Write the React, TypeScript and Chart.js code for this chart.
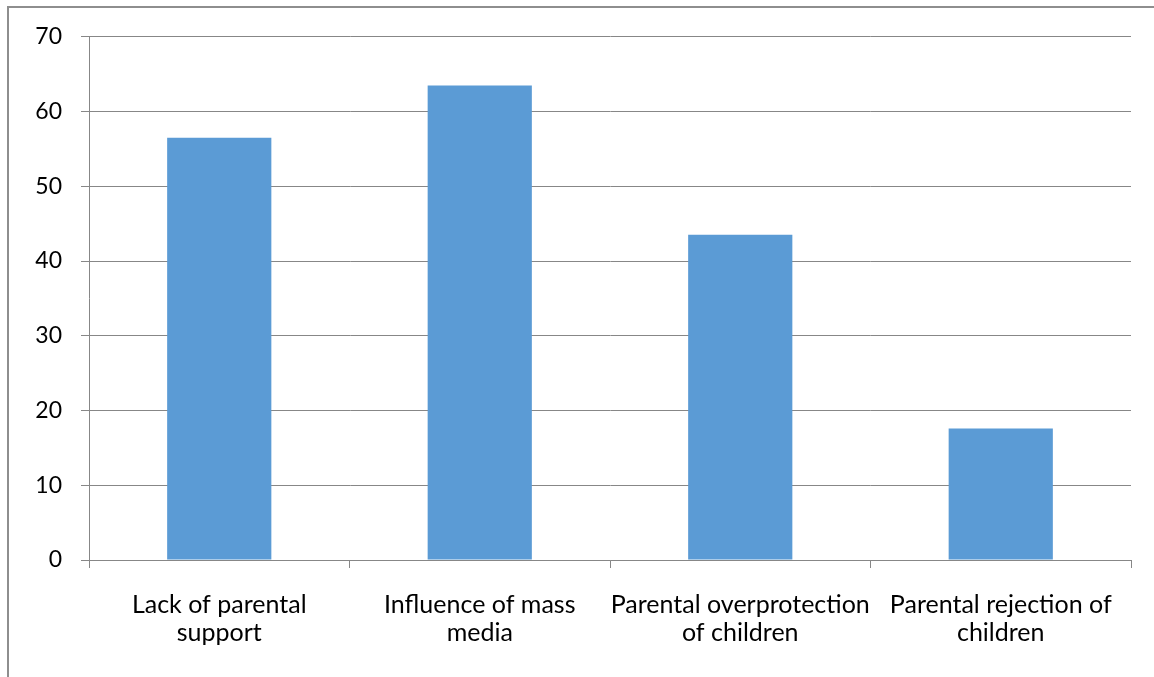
import React, { useEffect, useRef } from "react";
import { Chart, registerables } from "chart.js";

Chart.register(...registerables);

// Category labels (wrapped onto two lines as shown under the axis)
const categories: string[][] = [
  ["Lack of parental", "support"],
  ["Influence of mass", "media"],
  ["Parental overprotection", "of children"],
  ["Parental rejection of", "children"],
];

// Percentage of responses per factor
const values: number[] = [56.5, 63.5, 43.5, 17.6];

// Value axis range
const yMin = 0;
const yMax = 70;
const yStep = 10;

const FONT = "Lato, 'Open Sans', sans-serif";
const GRID = "#878787";

export default function App() {
  const canvasRef = useRef<HTMLCanvasElement | null>(null);

  useEffect(() => {
    const canvas = canvasRef.current;
    if (!canvas) return;
    const chart = new Chart(canvas, {
      type: "bar",
      data: {
        labels: categories,
        datasets: [
          {
            data: values,
            backgroundColor: "#5B9BD5",
            borderWidth: 0,
            categoryPercentage: 1,
            barPercentage: 0.4,
          },
        ],
      },
      options: {
        responsive: false,
        animation: false,
        layout: { padding: { top: 14, right: 18, left: 0, bottom: 0 } },
        plugins: {
          legend: { display: false },
          tooltip: { enabled: false },
        },
        scales: {
          x: {
            grid: {
              display: true,
              offset: true,
              drawOnChartArea: false,
              drawTicks: true,
              tickLength: 8,
              color: GRID,
              lineWidth: 1,
            },
            border: { display: true, color: GRID, width: 1 },
            ticks: {
              color: "#000",
              font: { family: FONT, size: 25, lineHeight: 1.12 },
              padding: 23,
              maxRotation: 0,
              minRotation: 0,
              autoSkip: false,
            },
            afterFit: (scale: any) => {
              scale.height = 104;
            },
          },
          y: {
            min: yMin,
            max: yMax,
            grid: {
              color: GRID,
              lineWidth: 1,
              drawTicks: true,
              tickLength: 8,
            },
            border: { display: true, color: GRID, width: 1 },
            ticks: {
              stepSize: yStep,
              color: "#000",
              font: { family: FONT, size: 23 },
              padding: 19,
            },
            afterFit: (scale: any) => {
              scale.width = 80;
            },
          },
        },
      },
    });
    return () => chart.destroy();
  }, []);

  return (
    <div
      style={{
        position: "absolute",
        left: 7,
        top: 6,
        width: 1147,
        height: 671,
        borderTop: "2px solid #8e8e8e",
        borderLeft: "2px solid #8e8e8e",
        boxSizing: "border-box",
        overflow: "hidden",
        background: "#fff",
      }}
    >
      <canvas
        ref={canvasRef}
        width={1140}
        height={660}
        style={{ position: "absolute", left: 0, top: -4, display: "block", width: 1140, height: 660 }}
      />
    </div>
  );
}
